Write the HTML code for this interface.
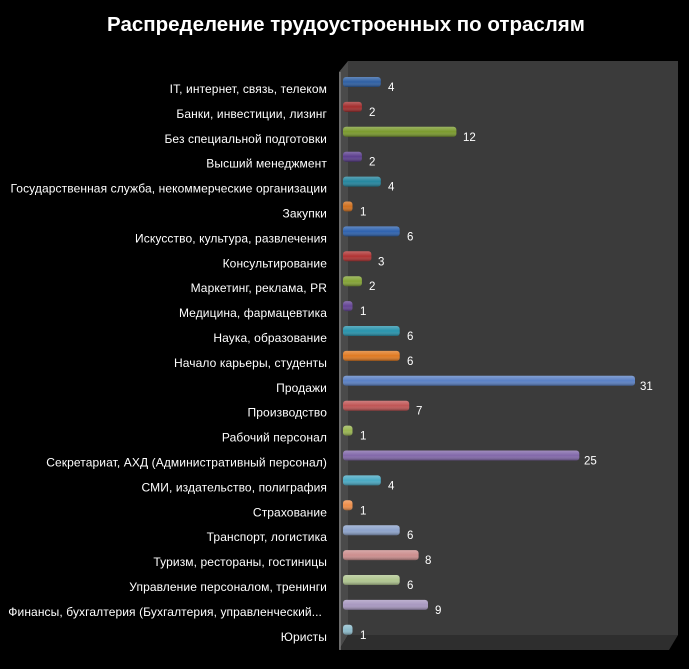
<!DOCTYPE html>
<html><head><meta charset="utf-8"><style>
body{margin:0;background:#000;width:689px;height:664px;overflow:hidden}
svg text{font-family:"Liberation Sans",sans-serif}
.l{font-size:12px;fill:#fff;text-anchor:end;letter-spacing:0.1px}
.v{font-size:11.5px;fill:#fff}
</style></head><body>
<svg width="689" height="664" xmlns="http://www.w3.org/2000/svg">
<defs>
<linearGradient id="sh" x1="0" y1="0" x2="0" y2="1">
<stop offset="0" stop-color="#fff" stop-opacity="0.25"/>
<stop offset="0.5" stop-color="#fff" stop-opacity="0"/>
<stop offset="1" stop-color="#000" stop-opacity="0.35"/>
</linearGradient>
</defs>
<rect width="689" height="664" fill="#000"/>
<text x="346" y="31" text-anchor="middle" font-size="20.5" font-weight="bold" fill="#fff">Распределение трудоустроенных по отраслям</text>
<polygon points="348,61 678,61 678,635 348,635" fill="#3b3b3b"/>
<polygon points="339,72 348,61 348,635 339,650" fill="#4a4a4a"/>
<polygon points="339,650 348,635 678,635 669,650" fill="#2e2e2e"/>
<line x1="340" y1="72" x2="340" y2="650" stroke="#777" stroke-width="1.5"/>

<g transform="translate(0,82)"><rect x="343" y="-5" width="37.8" height="10" rx="3" fill="#2e5fa3"/><rect x="343" y="-5" width="37.8" height="10" rx="3" fill="url(#sh)"/><text class="v" x="388" y="9">4</text><text class="l" x="327" y="11">IT, интернет, связь, телеком</text></g>
<g transform="translate(0,106.9)"><rect x="343" y="-5" width="18.9" height="10" rx="3" fill="#a32e2e"/><rect x="343" y="-5" width="18.9" height="10" rx="3" fill="url(#sh)"/><text class="v" x="369" y="9">2</text><text class="l" x="327" y="11">Банки, инвестиции, лизинг</text></g>
<g transform="translate(0,131.8)"><rect x="343" y="-5" width="113.4" height="10" rx="3" fill="#7a9a2e"/><rect x="343" y="-5" width="113.4" height="10" rx="3" fill="url(#sh)"/><text class="v" x="463" y="9">12</text><text class="l" x="327" y="11">Без специальной подготовки</text></g>
<g transform="translate(0,156.7)"><rect x="343" y="-5" width="18.9" height="10" rx="3" fill="#5c3f8e"/><rect x="343" y="-5" width="18.9" height="10" rx="3" fill="url(#sh)"/><text class="v" x="369" y="9">2</text><text class="l" x="327" y="11">Высший менеджмент</text></g>
<g transform="translate(0,181.6)"><rect x="343" y="-5" width="37.8" height="10" rx="3" fill="#24869e"/><rect x="343" y="-5" width="37.8" height="10" rx="3" fill="url(#sh)"/><text class="v" x="388" y="9">4</text><text class="l" x="327" y="11">Государственная служба, некоммерческие организации</text></g>
<g transform="translate(0,206.5)"><rect x="343" y="-5" width="9.5" height="10" rx="3" fill="#d0701e"/><rect x="343" y="-5" width="9.5" height="10" rx="3" fill="url(#sh)"/><text class="v" x="360" y="9">1</text><text class="l" x="327" y="11">Закупки</text></g>
<g transform="translate(0,231.4)"><rect x="343" y="-5" width="56.7" height="10" rx="3" fill="#2e62ae"/><rect x="343" y="-5" width="56.7" height="10" rx="3" fill="url(#sh)"/><text class="v" x="407" y="9">6</text><text class="l" x="327" y="11">Искусство, культура, развлечения</text></g>
<g transform="translate(0,256.3)"><rect x="343" y="-5" width="28.4" height="10" rx="3" fill="#b03333"/><rect x="343" y="-5" width="28.4" height="10" rx="3" fill="url(#sh)"/><text class="v" x="378" y="9">3</text><text class="l" x="327" y="11">Консультирование</text></g>
<g transform="translate(0,281.2)"><rect x="343" y="-5" width="18.9" height="10" rx="3" fill="#84a436"/><rect x="343" y="-5" width="18.9" height="10" rx="3" fill="url(#sh)"/><text class="v" x="369" y="9">2</text><text class="l" x="327" y="11">Маркетинг, реклама, PR</text></g>
<g transform="translate(0,306.1)"><rect x="343" y="-5" width="9.5" height="10" rx="3" fill="#644494"/><rect x="343" y="-5" width="9.5" height="10" rx="3" fill="url(#sh)"/><text class="v" x="360" y="9">1</text><text class="l" x="327" y="11">Медицина, фармацевтика</text></g>
<g transform="translate(0,331)"><rect x="343" y="-5" width="56.7" height="10" rx="3" fill="#2893ac"/><rect x="343" y="-5" width="56.7" height="10" rx="3" fill="url(#sh)"/><text class="v" x="407" y="9">6</text><text class="l" x="327" y="11">Наука, образование</text></g>
<g transform="translate(0,355.9)"><rect x="343" y="-5" width="56.7" height="10" rx="3" fill="#e07a22"/><rect x="343" y="-5" width="56.7" height="10" rx="3" fill="url(#sh)"/><text class="v" x="407" y="9">6</text><text class="l" x="327" y="11">Начало карьеры, студенты</text></g>
<g transform="translate(0,380.8)"><rect x="343" y="-5" width="292" height="10" rx="3" fill="#5a80c4"/><rect x="343" y="-5" width="292" height="10" rx="3" fill="url(#sh)"/><text class="v" x="640" y="9">31</text><text class="l" x="327" y="11">Продажи</text></g>
<g transform="translate(0,405.7)"><rect x="343" y="-5" width="66.2" height="10" rx="3" fill="#c05555"/><rect x="343" y="-5" width="66.2" height="10" rx="3" fill="url(#sh)"/><text class="v" x="416" y="9">7</text><text class="l" x="327" y="11">Производство</text></g>
<g transform="translate(0,430.6)"><rect x="343" y="-5" width="9.5" height="10" rx="3" fill="#9ab652"/><rect x="343" y="-5" width="9.5" height="10" rx="3" fill="url(#sh)"/><text class="v" x="360" y="9">1</text><text class="l" x="327" y="11">Рабочий персонал</text></g>
<g transform="translate(0,455.5)"><rect x="343" y="-5" width="236.3" height="10" rx="3" fill="#8268aa"/><rect x="343" y="-5" width="236.3" height="10" rx="3" fill="url(#sh)"/><text class="v" x="584" y="9">25</text><text class="l" x="327" y="11">Секретариат, АХД  (Административный персонал)</text></g>
<g transform="translate(0,480.4)"><rect x="343" y="-5" width="37.8" height="10" rx="3" fill="#4aaac4"/><rect x="343" y="-5" width="37.8" height="10" rx="3" fill="url(#sh)"/><text class="v" x="388" y="9">4</text><text class="l" x="327" y="11">СМИ, издательство, полиграфия</text></g>
<g transform="translate(0,505.3)"><rect x="343" y="-5" width="9.5" height="10" rx="3" fill="#ee8e4a"/><rect x="343" y="-5" width="9.5" height="10" rx="3" fill="url(#sh)"/><text class="v" x="360" y="9">1</text><text class="l" x="327" y="11">Страхование</text></g>
<g transform="translate(0,530.2)"><rect x="343" y="-5" width="56.7" height="10" rx="3" fill="#8ea4cc"/><rect x="343" y="-5" width="56.7" height="10" rx="3" fill="url(#sh)"/><text class="v" x="407" y="9">6</text><text class="l" x="327" y="11">Транспорт, логистика</text></g>
<g transform="translate(0,555.1)"><rect x="343" y="-5" width="75.6" height="10" rx="3" fill="#cc8e8e"/><rect x="343" y="-5" width="75.6" height="10" rx="3" fill="url(#sh)"/><text class="v" x="425" y="9">8</text><text class="l" x="327" y="11">Туризм, рестораны, гостиницы</text></g>
<g transform="translate(0,580)"><rect x="343" y="-5" width="56.7" height="10" rx="3" fill="#b0c690"/><rect x="343" y="-5" width="56.7" height="10" rx="3" fill="url(#sh)"/><text class="v" x="407" y="9">6</text><text class="l" x="327" y="11">Управление персоналом, тренинги</text></g>
<g transform="translate(0,604.9)"><rect x="343" y="-5" width="85" height="10" rx="3" fill="#a898c0"/><rect x="343" y="-5" width="85" height="10" rx="3" fill="url(#sh)"/><text class="v" x="435" y="9">9</text><text class="l" x="322" y="11">Финансы, бухгалтерия (Бухгалтерия, управленческий...</text></g>
<g transform="translate(0,629.8)"><rect x="343" y="-5" width="9.5" height="10" rx="3" fill="#8ebccc"/><rect x="343" y="-5" width="9.5" height="10" rx="3" fill="url(#sh)"/><text class="v" x="360" y="9">1</text><text class="l" x="327" y="11">Юристы</text></g>
</svg>
</body></html>
